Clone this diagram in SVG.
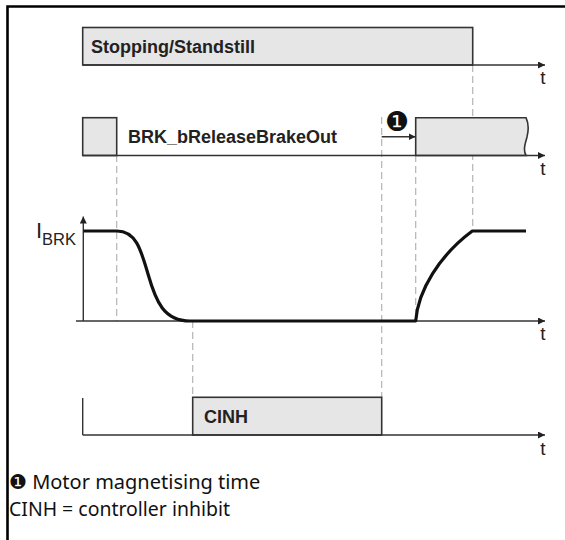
<svg xmlns="http://www.w3.org/2000/svg" width="565" height="540" viewBox="0 0 565 540">
<style>
.axis{stroke:#333;stroke-width:1.4;fill:none}
.box{stroke:#333;stroke-width:1.6;fill:#e6e6e6}
.dash{stroke:#b4b4b4;stroke-width:1.2;stroke-dasharray:7,4;fill:none}
.sig{stroke:#111;stroke-width:3.2;fill:none;stroke-linejoin:round}
.lbl{font-family:"Liberation Sans",Arial,sans-serif;font-weight:bold;font-size:18px;fill:#222}
.t{font-family:"Liberation Sans",Arial,sans-serif;font-size:19px;fill:#222;text-anchor:middle}
.note{font-family:"Noto Sans","DejaVu Sans",sans-serif;font-size:20px;fill:#111}
</style>
<defs>
<marker id="ah" viewBox="0 0 10 10" refX="10" refY="5" markerWidth="7" markerHeight="7" markerUnits="userSpaceOnUse" orient="auto"><path d="M0,0 L10,5 L0,10 z" fill="#222"/></marker>
</defs>
<rect width="565" height="540" fill="#fff"/>
<path d="M7.5,540 V6.5 H565" fill="none" stroke="#000" stroke-width="2.6"/>

<g id="guides">
<line class="dash" x1="472.7" y1="65" x2="472.7" y2="231"/>
<line class="dash" x1="116.7" y1="155" x2="116.7" y2="321"/>
<line class="dash" x1="192.7" y1="321" x2="192.7" y2="397"/>
<line class="dash" x1="381.7" y1="117" x2="381.7" y2="397"/>
<line class="dash" x1="415.7" y1="155" x2="415.7" y2="321"/>
</g>

<g id="stopping">
<rect class="box" x="82.7" y="27.5" width="390" height="37.5"/>
<line class="axis" x1="82.7" y1="65" x2="545" y2="65" marker-end="url(#ah)"/>
<text class="lbl" x="91" y="53">Stopping/Standstill</text>
<text class="t" x="543" y="84">t</text>
</g>

<g id="brake-out">
<rect class="box" x="82.7" y="117.7" width="34" height="37.8"/>
<path class="box" d="M415.7,155.5 V117.7 H526 C529,124 528.5,131 527,137 C525,144 523,150 526,155.5 Z"/>
<line class="axis" x1="82.7" y1="155.5" x2="545" y2="155.5" marker-end="url(#ah)"/>
<text class="lbl" x="128" y="143">BRK_bReleaseBrakeOut</text>
<text class="t" x="543" y="175">t</text>
</g>

<g id="magnetising">
<line class="axis" x1="381.7" y1="136.7" x2="415.5" y2="136.7" marker-end="url(#ah)"/>
<text x="397" y="131" font-family="DejaVu Sans,sans-serif" font-size="27" text-anchor="middle" fill="#111">❶</text>
</g>

<g id="ibrk">
<line class="axis" x1="83.3" y1="321" x2="83.3" y2="216.5" marker-end="url(#ah)"/>
<line class="axis" x1="76" y1="321" x2="545" y2="321" marker-end="url(#ah)"/>
<path class="sig" d="M83.3,231 H117 C136,231 141,250 148,274 C156,302 164,321 190,321 H415.7 C418,290 440,255 472.3,231 H526"/>
<text x="36" y="238" font-family="Liberation Sans,Arial,sans-serif" font-size="22" fill="#222">I</text>
<text x="42" y="245" font-family="Liberation Sans,Arial,sans-serif" font-size="16.5" fill="#222">BRK</text>
<text class="t" x="543" y="340">t</text>
</g>

<g id="cinh">
<line class="axis" x1="82.7" y1="398" x2="82.7" y2="435"/>
<rect class="box" x="192.7" y="397.3" width="189" height="37.7"/>
<line class="axis" x1="82.7" y1="435" x2="545" y2="435" marker-end="url(#ah)"/>
<text class="lbl" x="204" y="423">CINH</text>
<text class="t" x="543" y="455">t</text>
</g>

<g id="notes">
<text class="note" x="9" y="489">❶ Motor magnetising time</text>
<text class="note" x="9" y="516" textLength="221" lengthAdjust="spacingAndGlyphs">CINH = controller inhibit</text>
</g>
</svg>
